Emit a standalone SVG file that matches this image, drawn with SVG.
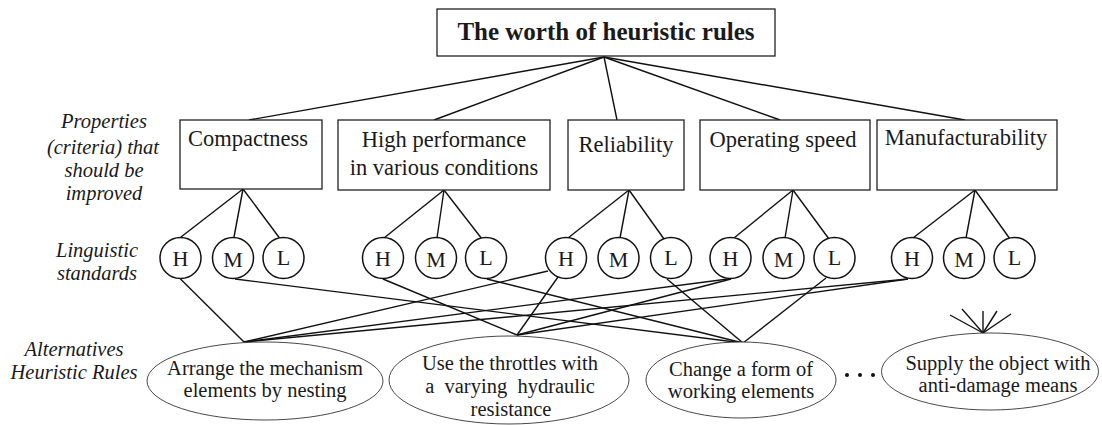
<svg xmlns="http://www.w3.org/2000/svg" width="1102" height="425" viewBox="0 0 1102 425">
<style>
text{font-family:"Liberation Serif","Times New Roman",serif;fill:#1a1a1a}
.box{fill:#fff;stroke:#222;stroke-width:1.3}
.circ{fill:#fff;stroke:#111;stroke-width:1.5}
.ell{fill:#fff;stroke:#333;stroke-width:0.9}
.lbl{font-style:italic;font-size:20.5px;text-anchor:middle}
.bt{font-size:22.5px;text-anchor:middle}
.ct{font-size:22px;text-anchor:middle}
.et{font-size:20.5px;text-anchor:middle}
#connectors line{stroke:#111;stroke-width:1.4}
</style>
<rect width="1102" height="425" fill="#fff"/>
<g id="labels">
<text class="lbl" x="104" y="128">Properties</text>
<text class="lbl" x="103" y="154">(criteria) that</text>
<text class="lbl" x="104" y="177">should be</text>
<text class="lbl" x="104" y="200">improved</text>
<text class="lbl" x="97" y="257">Linguistic</text>
<text class="lbl" x="97" y="280">standards</text>
<text class="lbl" x="74" y="356">Alternatives</text>
<text class="lbl" x="74" y="379">Heuristic Rules</text>
</g>
<g id="connectors">
<line x1="604" y1="57" x2="249" y2="120"/>
<line x1="604" y1="57" x2="434" y2="120"/>
<line x1="604" y1="57" x2="617" y2="120"/>
<line x1="604" y1="57" x2="780" y2="120"/>
<line x1="604" y1="57" x2="965" y2="120"/>
<line x1="243" y1="189" x2="181" y2="237"/>
<line x1="243" y1="189" x2="234" y2="237"/>
<line x1="243" y1="189" x2="279.5" y2="238"/>
<line x1="444" y1="190" x2="384" y2="238"/>
<line x1="444" y1="190" x2="437" y2="238"/>
<line x1="444" y1="190" x2="482" y2="239"/>
<line x1="629" y1="190" x2="568" y2="238"/>
<line x1="629" y1="190" x2="620" y2="238"/>
<line x1="629" y1="190" x2="664" y2="239"/>
<line x1="793" y1="190" x2="734" y2="238"/>
<line x1="793" y1="190" x2="785" y2="238"/>
<line x1="793" y1="190" x2="829" y2="239"/>
<line x1="975" y1="190" x2="913" y2="238"/>
<line x1="975" y1="190" x2="966" y2="238"/>
<line x1="975" y1="190" x2="1010" y2="239"/>
<line x1="180.5" y1="279" x2="244" y2="342"/>
<line x1="235" y1="279" x2="743" y2="343"/>
<line x1="383" y1="279" x2="517" y2="335"/>
<line x1="487" y1="279" x2="743" y2="343"/>
<line x1="548" y1="271" x2="244" y2="342"/>
<line x1="558" y1="277" x2="517" y2="335"/>
<line x1="667" y1="279" x2="743" y2="343"/>
<line x1="728" y1="279" x2="244" y2="342"/>
<line x1="731" y1="279" x2="517" y2="335"/>
<line x1="826" y1="278" x2="743" y2="343"/>
<line x1="908" y1="279" x2="244" y2="342"/>
<line x1="908" y1="279" x2="517" y2="335"/>
<line x1="983" y1="333" x2="950" y2="315"/>
<line x1="983" y1="333" x2="962" y2="309"/>
<line x1="983" y1="333" x2="983" y2="311"/>
<line x1="983" y1="333" x2="997" y2="311"/>
<line x1="983" y1="333" x2="1011" y2="314"/>
</g>
<g id="n-root"><rect class="box" x="437" y="9" width="338" height="47"/><text x="606" y="40" font-size="25" font-weight="bold" text-anchor="middle">The worth of heuristic rules</text></g>
<g id="n-compactness"><rect class="box" x="180" y="120" width="142" height="69"/><text class="bt" x="248" y="146">Compactness</text></g>
<g id="n-performance"><rect class="box" x="338" y="120" width="212" height="70"/><text class="bt" x="444" y="147">High performance</text><text class="bt" x="444" y="175">in various conditions</text></g>
<g id="n-reliability"><rect class="box" x="568" y="120" width="116" height="70"/><text class="bt" x="626" y="152">Reliability</text></g>
<g id="n-speed"><rect class="box" x="700" y="120" width="170" height="70"/><text class="bt" x="783" y="147">Operating speed</text></g>
<g id="n-manuf"><rect class="box" x="877" y="120" width="180" height="70"/><text class="bt" x="966" y="145">Manufacturability</text></g>
<g id="n-c-h"><circle class="circ" cx="180.5" cy="258" r="20.5"/><text class="ct" x="180.5" y="266">H</text></g>
<g id="n-c-m"><circle class="circ" cx="233" cy="258" r="20.5"/><text class="ct" x="233" y="267">M</text></g>
<g id="n-c-l"><circle class="circ" cx="283.5" cy="258" r="20.5"/><text class="ct" x="283.5" y="265">L</text></g>
<g id="n-p-h"><circle class="circ" cx="383" cy="258" r="20.5"/><text class="ct" x="383" y="266">H</text></g>
<g id="n-p-m"><circle class="circ" cx="436" cy="258" r="20.5"/><text class="ct" x="436" y="267">M</text></g>
<g id="n-p-l"><circle class="circ" cx="486" cy="258" r="20.5"/><text class="ct" x="486" y="265">L</text></g>
<g id="n-r-h"><circle class="circ" cx="566" cy="258" r="20.5"/><text class="ct" x="566" y="266">H</text></g>
<g id="n-r-m"><circle class="circ" cx="618.5" cy="258" r="20.5"/><text class="ct" x="618.5" y="267">M</text></g>
<g id="n-r-l"><circle class="circ" cx="671" cy="258" r="20.5"/><text class="ct" x="671" y="265">L</text></g>
<g id="n-s-h"><circle class="circ" cx="730.5" cy="258" r="20.5"/><text class="ct" x="730.5" y="266">H</text></g>
<g id="n-s-m"><circle class="circ" cx="783.5" cy="258" r="20.5"/><text class="ct" x="783.5" y="267">M</text></g>
<g id="n-s-l"><circle class="circ" cx="834.5" cy="258" r="20.5"/><text class="ct" x="834.5" y="265">L</text></g>
<g id="n-m-h"><circle class="circ" cx="912" cy="258" r="20.5"/><text class="ct" x="912" y="266">H</text></g>
<g id="n-m-m"><circle class="circ" cx="964" cy="258" r="20.5"/><text class="ct" x="964" y="267">M</text></g>
<g id="n-m-l"><circle class="circ" cx="1014.5" cy="258" r="20.5"/><text class="ct" x="1014.5" y="265">L</text></g>
<g id="n-arrange"><ellipse class="ell" cx="265" cy="381" rx="118" ry="39"/><text class="et" x="265" y="375">Arrange the mechanism</text><text class="et" x="265" y="397">elements by nesting</text></g>
<g id="n-throttles"><ellipse class="ell" cx="509" cy="380" rx="120" ry="44"/><text class="et" x="510" y="370">Use the throttles with</text><text class="et" x="510" y="393" xml:space="preserve">a  varying  hydraulic</text><text class="et" x="511" y="416">resistance</text></g>
<g id="n-form"><ellipse class="ell" cx="741" cy="380" rx="95" ry="38"/><text class="et" x="741" y="376">Change a form of</text><text class="et" x="741" y="398">working elements</text></g>
<g id="dots" fill="#111"><circle cx="847" cy="375" r="2"/><circle cx="860" cy="375" r="2"/><circle cx="873" cy="375" r="2"/></g>
<g id="n-supply"><ellipse class="ell" cx="990" cy="371.5" rx="108.5" ry="38.5"/><text class="et" x="998" y="370">Supply the object with</text><text class="et" x="998" y="392">anti-damage means</text></g>
</svg>
